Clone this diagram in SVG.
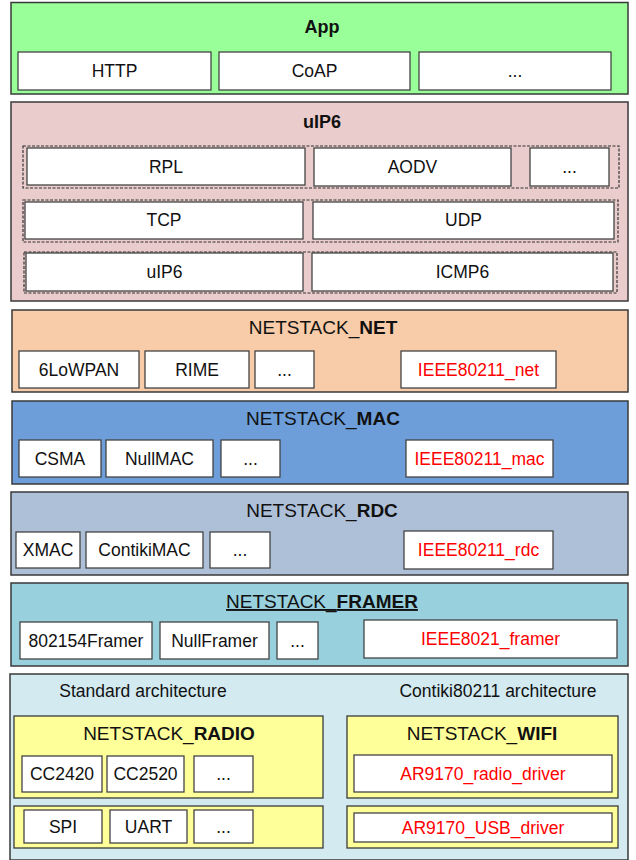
<svg xmlns="http://www.w3.org/2000/svg" width="636" height="860" viewBox="0 0 636 860">
<style>
text{font-family:"Liberation Sans",Arial,sans-serif;fill:#111}
.layer{stroke:#3a3a3a;stroke-width:1.5}
.box{fill:#fff;stroke:#444;stroke-width:1.3}
.dash{fill:none;stroke:#333;stroke-width:1.2;stroke-dasharray:3 1.5}
.t{font-size:19px;text-anchor:middle}
.tb{font-size:18px;font-weight:bold;text-anchor:middle}
.l{font-size:17.5px;text-anchor:middle}
.r{fill:#f00}
.b{font-weight:bold}
.y{fill:#ffff99;stroke:#3a3a3a;stroke-width:1.3}
</style>
<rect width="636" height="860" fill="#fff"/>

<g id="app">
<rect class="layer" x="11" y="2.5" width="617" height="91.5" fill="#99ff99"/>
<text class="tb" x="322" y="33">App</text>
<rect class="box" x="18" y="52" width="193" height="38"/><text class="l" x="114.5" y="77">HTTP</text>
<rect class="box" x="219" y="52" width="191" height="38"/><text class="l" x="314.5" y="77">CoAP</text>
<rect class="box" x="419" y="52" width="192" height="38"/><text class="l" x="515" y="77">...</text>
</g>

<g id="uip6">
<rect class="layer" x="11" y="102" width="617" height="199" fill="#ebcccc"/>
<text class="tb" x="322" y="128">uIP6</text>
<rect class="dash" x="23" y="146" width="596" height="42"/>
<rect class="box" x="27" y="148" width="278" height="37"/><text class="l" x="166" y="173">RPL</text>
<rect class="box" x="314" y="148" width="197" height="38"/><text class="l" x="412.5" y="173">AODV</text>
<rect class="box" x="530" y="148" width="79" height="38"/><text class="l" x="569.5" y="173">...</text>
<rect class="dash" x="23" y="200" width="595" height="42"/>
<rect class="box" x="25" y="202" width="278" height="37"/><text class="l" x="164" y="226">TCP</text>
<rect class="box" x="313" y="202" width="301" height="37"/><text class="l" x="463.5" y="226">UDP</text>
<rect class="dash" x="24" y="252" width="593" height="41"/>
<rect class="box" x="26" y="253" width="277" height="38"/><text class="l" x="164.5" y="278">uIP6</text>
<rect class="box" x="312" y="253" width="301" height="38"/><text class="l" x="462.5" y="278">ICMP6</text>
</g>

<g id="net">
<rect class="layer" x="12" y="310" width="616" height="82" fill="#f8cca8"/>
<text class="t" x="323" y="334">NETSTACK_<tspan class="b">NET</tspan></text>
<rect class="box" x="19" y="351" width="120" height="37"/><text class="l" x="79" y="376">6LoWPAN</text>
<rect class="box" x="145" y="351" width="104" height="37"/><text class="l" x="197" y="376">RIME</text>
<rect class="box" x="255" y="351" width="59" height="37"/><text class="l" x="284.5" y="376">...</text>
<rect class="box" x="401" y="351" width="155" height="37"/><text class="l r" x="478.5" y="376">IEEE80211_net</text>
</g>

<g id="mac">
<rect class="layer" x="12" y="401" width="616" height="83" fill="#6d9eda"/>
<text class="t" x="323" y="425">NETSTACK_<tspan class="b">MAC</tspan></text>
<rect class="box" x="19" y="440" width="82" height="37"/><text class="l" x="60" y="465">CSMA</text>
<rect class="box" x="106" y="440" width="107" height="37"/><text class="l" x="159.5" y="465">NullMAC</text>
<rect class="box" x="221" y="440" width="59" height="37"/><text class="l" x="250.5" y="465">...</text>
<rect class="box" x="406" y="440" width="147" height="37"/><text class="l r" x="479.5" y="465">IEEE80211_mac</text>
</g>

<g id="rdc">
<rect class="layer" x="11" y="492" width="617" height="83" fill="#aec0d8"/>
<text class="t" x="322" y="517">NETSTACK_<tspan class="b">RDC</tspan></text>
<rect class="box" x="16" y="532" width="64" height="36"/><text class="l" x="48" y="556">XMAC</text>
<rect class="box" x="86" y="532" width="117" height="36"/><text class="l" x="144.5" y="556">ContikiMAC</text>
<rect class="box" x="210" y="532" width="60" height="36"/><text class="l" x="240" y="556">...</text>
<rect class="box" x="404" y="531" width="149" height="38"/><text class="l r" x="478.5" y="556">IEEE80211_rdc</text>
</g>

<g id="framer">
<rect class="layer" x="11" y="583" width="617" height="83" fill="#99d0de"/>
<text class="t" x="322" y="608" text-decoration="underline">NETSTACK_<tspan class="b">FRAMER</tspan></text>
<rect class="box" x="20" y="622" width="132" height="37"/><text class="l" x="86" y="647">802154Framer</text>
<rect class="box" x="160" y="622" width="109" height="37"/><text class="l" x="214.5" y="647">NullFramer</text>
<rect class="box" x="277" y="622" width="41" height="37"/><text class="l" x="297.5" y="647">...</text>
<rect class="box" x="364" y="620" width="253" height="38"/><text class="l r" x="490.5" y="645">IEEE8021_framer</text>
</g>

<g id="hardware">
<rect class="layer" x="10" y="674" width="618" height="186" fill="#d2eaf0"/>
<text class="l" x="143" y="697">Standard architecture</text>
<text class="l" x="498" y="697">Contiki80211 architecture</text>
</g>

<g id="radio">
<rect class="y" x="14" y="716" width="309" height="82"/>
<text class="t" x="169" y="740">NETSTACK_<tspan class="b">RADIO</tspan></text>
<rect class="box" x="22" y="756" width="80" height="36"/><text class="l" x="62" y="780">CC2420</text>
<rect class="box" x="107" y="756" width="77" height="36"/><text class="l" x="145.5" y="780">CC2520</text>
<rect class="box" x="194" y="756" width="59" height="36"/><text class="l" x="223.5" y="780">...</text>
</g>

<g id="bus">
<rect class="y" x="14" y="806" width="309" height="42"/>
<rect class="box" x="24" y="810" width="78" height="33"/><text class="l" x="63" y="833">SPI</text>
<rect class="box" x="110" y="810" width="77" height="33"/><text class="l" x="148.5" y="833">UART</text>
<rect class="box" x="194" y="810" width="59" height="33"/><text class="l" x="223.5" y="833">...</text>
</g>

<g id="wifi">
<rect class="y" x="347" y="716" width="271" height="82"/>
<text class="t" x="482" y="740">NETSTACK_<tspan class="b">WIFI</tspan></text>
<rect class="box" x="354" y="755" width="258" height="37"/><text class="l r" x="483" y="780">AR9170_radio_driver</text>
</g>

<g id="usb">
<rect class="y" x="347" y="806" width="271" height="42"/>
<rect class="box" x="354" y="813" width="258" height="29"/><text class="l r" x="483" y="834">AR9170_USB_driver</text>
</g>
</svg>
